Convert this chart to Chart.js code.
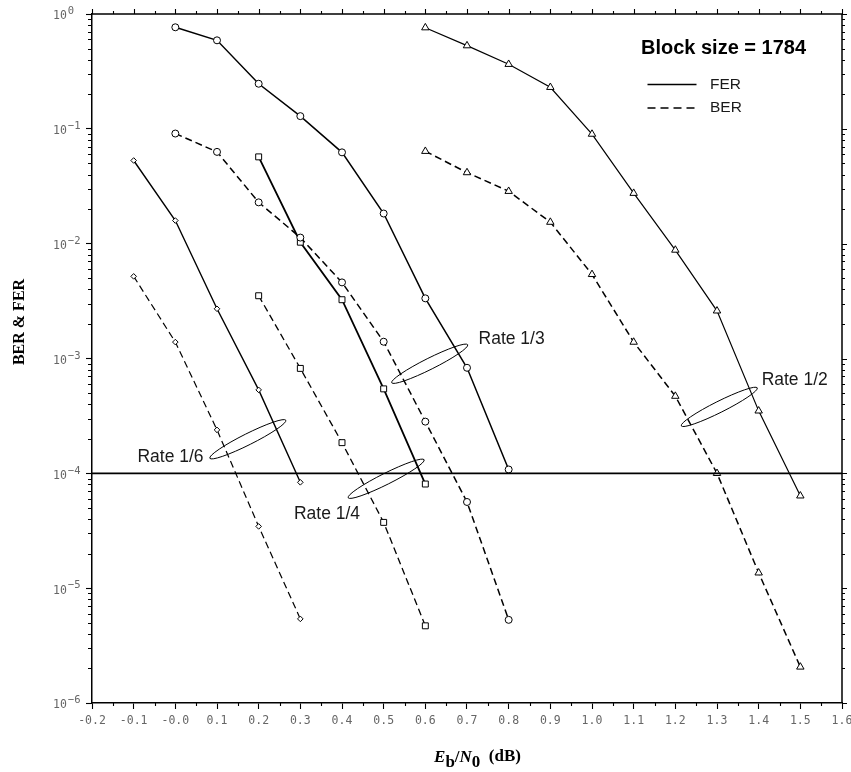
<!DOCTYPE html>
<html><head><meta charset="utf-8">
<script src="https://cdn.jsdelivr.net/npm/chart.js@4/dist/chart.umd.min.js"></script>
<style>html,body{margin:0;padding:0;background:#fff}#wrap{width:851px;height:772px}</style>
</head><body><div id="wrap"><canvas id="c" width="851" height="772"></canvas></div>
<script>
// ---------- data ----------
const rate13X   = [0.0, 0.1, 0.2, 0.3, 0.4, 0.5, 0.6, 0.7, 0.8];
const rate13FER = [0.766, 0.59, 0.247, 0.129, 0.0624, 0.0183, 0.00334, 0.00083, 0.000108];
const rate13BER = [0.091, 0.063, 0.0229, 0.0113, 0.0046, 0.0014, 0.000282, 0.0000563, 0.0000053];

const rate12X   = [0.6, 0.7, 0.8, 0.9, 1.0, 1.1, 1.2, 1.3, 1.4, 1.5];
const rate12FER = [0.76, 0.53, 0.365, 0.23, 0.09, 0.0275, 0.0088, 0.0026, 0.00035, 0.0000637];
const rate12BER = [0.0638, 0.0416, 0.0286, 0.0154, 0.0054, 0.00139, 0.00047, 0.0001, 0.0000136, 0.00000206];

const rate16X   = [-0.1, 0.0, 0.1, 0.2, 0.3];
const rate16FER = [0.053, 0.0159, 0.00271, 0.000533, 0.0000835];
const rate16BER = [0.00519, 0.00139, 0.000239, 0.0000345, 0.0000054];

const rate14X   = [0.2, 0.3, 0.4, 0.5, 0.6];
const rate14FER = [0.057, 0.0103, 0.00325, 0.000544, 0.0000807];
const rate14BER = [0.00352, 0.00082, 0.000185, 0.0000374, 0.0000047];

const thresholdX = [-0.2, 1.6];
const thresholdY = [1e-4, 1e-4];

const xTickValues = [-0.2,-0.1,0,0.1,0.2,0.3,0.4,0.5,0.6,0.7,0.8,0.9,1.0,1.1,1.2,1.3,1.4,1.5,1.6];
const xTickLabels = ['-0.2','-0.1','-0.0','0.1','0.2','0.3','0.4','0.5','0.6','0.7','0.8','0.9','1.0','1.1','1.2','1.3','1.4','1.5','1.6'];
const yTickValues = [1e-6,1e-5,1e-4,1e-3,1e-2,1e-1,1];
const yTickBase = '10';
const yTickExponents = ['\u22126','\u22125','\u22124','\u22123','\u22122','\u22121','0'];

const rateNames = ['Rate 1/3', 'Rate 1/2', 'Rate 1/6', 'Rate 1/4'];
const legendTitle = 'Block size = 1784';
const legendNames = ['FER', 'BER'];

// annotation anchors in data coordinates
const rateLabelX = [0.807, 1.4865, -0.0116, 0.364];
const rateLabelY = [1.475e-3, 6.53e-4, 1.375e-4, 4.45e-5];
const ellipseX   = [0.6105, 1.3055, 0.174, 0.506];
const ellipseY   = [9.0e-4, 3.79e-4, 1.98e-4, 8.97e-5];

// ---------- chart ----------
function pts(xs, ys){ return xs.map((x,i)=>({x:x, y:ys[i]})); }
function series(label, xs, ys, style, radius, dashed, width){
  return {
    label: label, data: pts(xs, ys), showLine: true, tension: 0,
    borderColor: '#000', borderWidth: width, borderDash: dashed ? [7,4] : [],
    pointStyle: style, pointRadius: radius, pointHoverRadius: radius,
    pointBackgroundColor: '#fff', pointBorderColor: '#000', pointBorderWidth: 1,
    fill: false
  };
}

const datasets = [
  {label:'threshold', data: pts(thresholdX, thresholdY), showLine:true, borderColor:'#000', borderWidth:1.8, pointRadius:0, fill:false},
  series('Rate 1/3 FER', rate13X, rate13FER, 'circle', 3.5, false, 1.5),
  series('Rate 1/3 BER', rate13X, rate13BER, 'circle', 3.5, true, 1.5),
  series('Rate 1/2 FER', rate12X, rate12FER, 'triangle', 4.3, false, 1.2),
  series('Rate 1/2 BER', rate12X, rate12BER, 'triangle', 4.3, true, 1.5),
  series('Rate 1/6 FER', rate16X, rate16FER, 'rectRot', 2.8, false, 1.4),
  series('Rate 1/6 BER', rate16X, rate16BER, 'rectRot', 2.8, true, 1.2),
  series('Rate 1/4 FER', rate14X, rate14FER, 'rect', 4.2, false, 1.8),
  series('Rate 1/4 BER', rate14X, rate14BER, 'rect', 4.2, true, 1.3)
];

const decor = {
  id: 'decor',
  afterDraw(chart){
    const ctx = chart.ctx, a = chart.chartArea, xs = chart.scales.x, ys = chart.scales.y;
    ctx.save();
    ctx.strokeStyle = '#000';
    // top & right frame
    ctx.lineWidth = 1.5;
    ctx.beginPath();
    ctx.moveTo(a.left, a.top); ctx.lineTo(a.right, a.top); ctx.lineTo(a.right, a.bottom);
    ctx.stroke();
    ctx.lineWidth = 1.1;
    ctx.beginPath();
    for (let i = 0; i <= 36; i++){
      const v = -0.2 + i*0.05;
      const px = Math.round(xs.getPixelForValue(v)) + 0.5;
      const major = (i % 2 === 0);
      ctx.moveTo(px, a.top); ctx.lineTo(px, a.top - (major ? 5 : 3));
      if (!major){ ctx.moveTo(px, a.bottom); ctx.lineTo(px, a.bottom + 3); }
    }
    for (let e = -6; e <= 0; e++){
      for (let m = 1; m <= 9; m++){
        const v = m * Math.pow(10, e);
        if (v > 1.0000001) break;
        const py = Math.round(ys.getPixelForValue(v)) + 0.5;
        const major = (m === 1);
        if (!major){ ctx.moveTo(a.left, py); ctx.lineTo(a.left - 4, py); }
        ctx.moveTo(a.right, py); ctx.lineTo(a.right + (major ? 5 : 3), py);
      }
    }
    ctx.stroke();

    // y tick labels 10^n
    ctx.fillStyle = '#666';
    ctx.textAlign = 'left'; ctx.textBaseline = 'middle';
    for (let i = 0; i < yTickValues.length; i++){
      const py = ys.getPixelForValue(yTickValues[i]);
      const lx = a.left - 39;
      ctx.font = '11.5px "DejaVu Sans Mono", monospace';
      ctx.fillText(yTickBase, lx, py + 2.5);
      const w = ctx.measureText(yTickBase).width;
      ctx.font = '10.5px "DejaVu Sans Mono", monospace';
      ctx.fillText(yTickExponents[i], lx + w + 1, py - 2.5);
    }

    // ellipses
    ctx.lineWidth = 1;
    for (let i = 0; i < ellipseX.length; i++){
      const cx = xs.getPixelForValue(ellipseX[i]), cy = ys.getPixelForValue(ellipseY[i]);
      ctx.beginPath();
      ctx.ellipse(cx, cy, 42.5, 5.6, -26.6*Math.PI/180, 0, Math.PI*2);
      ctx.stroke();
    }
    // rate labels
    ctx.fillStyle = '#1a1a1a';
    ctx.font = '17.5px "Liberation Sans", Arial, sans-serif';
    ctx.textAlign = 'center'; ctx.textBaseline = 'middle';
    for (let i = 0; i < rateNames.length; i++){
      ctx.fillText(rateNames[i], xs.getPixelForValue(rateLabelX[i]), ys.getPixelForValue(rateLabelY[i]));
    }

    // legend block
    ctx.fillStyle = '#000';
    ctx.font = 'bold 20px "Liberation Sans", Arial, sans-serif';
    ctx.textAlign = 'center';
    ctx.fillText(legendTitle, a.right - 118.5, a.top + 34);
    ctx.lineWidth = 1.3;
    ctx.beginPath(); ctx.moveTo(a.right - 194.5, a.top + 70.5); ctx.lineTo(a.right - 145.5, a.top + 70.5); ctx.stroke();
    ctx.setLineDash([8,5]);
    ctx.beginPath(); ctx.moveTo(a.right - 194.5, a.top + 94); ctx.lineTo(a.right - 145.5, a.top + 94); ctx.stroke();
    ctx.setLineDash([]);
    ctx.font = '15.5px "Liberation Sans", Arial, sans-serif';
    ctx.textAlign = 'left';
    ctx.fillStyle = '#1a1a1a';
    ctx.fillText(legendNames[0], a.right - 132, a.top + 70.5);
    ctx.fillText(legendNames[1], a.right - 132, a.top + 94);

    // y title
    ctx.save();
    ctx.fillStyle = '#000';
    ctx.font = 'bold 16px "Liberation Serif", "Times New Roman", serif';
    ctx.translate(20, 322);
    ctx.rotate(-Math.PI/2);
    ctx.textAlign = 'center'; ctx.textBaseline = 'middle';
    ctx.fillText('BER & FER', 0, 0);
    ctx.restore();

    // x title: E_b/N_0 (dB)
    const parts = [
      {t:'E', f:'italic bold 17px "Liberation Serif", serif', dy:0},
      {t:'b', f:'bold 17px "Liberation Serif", serif', dy:5},
      {t:'/', f:'bold 17px "Liberation Serif", serif', dy:0},
      {t:'N', f:'italic bold 17px "Liberation Serif", serif', dy:0},
      {t:'0', f:'bold 17px "Liberation Serif", serif', dy:5},
      {t:'  (dB)', f:'bold 17px "Liberation Serif", serif', dy:-1}
    ];
    let total = 0;
    parts.forEach(p => { ctx.font = p.f; p.w = ctx.measureText(p.t).width; total += p.w; });
    let cx = (a.left + a.right)/2 + 10.5 - total/2;
    const base = a.bottom + 59;
    ctx.textAlign = 'left'; ctx.textBaseline = 'alphabetic'; ctx.fillStyle = '#000';
    parts.forEach(p => { ctx.font = p.f; ctx.fillText(p.t, cx, base + p.dy); cx += p.w; });
    ctx.restore();
  }
};

new Chart(document.getElementById('c'), {
  type: 'scatter',
  data: { datasets: datasets },
  options: {
    responsive: false, animation: false, devicePixelRatio: 1,
    layout: { padding: { top: 14, right: 9, left: 0, bottom: 0 } },
    plugins: { legend: { display: false }, tooltip: { enabled: false } },
    scales: {
      x: {
        type: 'linear', position: 'bottom', min: -0.2, max: 1.6,
        afterBuildTicks(s){ s.ticks = xTickValues.map(v => ({value: v})); },
        afterFit(s){ s.height = 69; s.paddingLeft = 0; s.paddingRight = 0; },
        border: { display: true, color: '#000', width: 1.5 },
        grid: { display: true, drawOnChartArea: false, drawTicks: true, tickLength: 6, tickWidth: 1.1, tickColor: '#000' },
        ticks: { autoSkip: false, maxRotation: 0, minRotation: 0, padding: 5, color: '#666',
                 font: { family: '"DejaVu Sans Mono", monospace', size: 11.5 },
                 callback: (v, i) => xTickLabels[i] }
      },
      y: {
        type: 'logarithmic', position: 'left', min: 1e-6, max: 1,
        afterBuildTicks(s){ s.ticks = yTickValues.map(v => ({value: v})); },
        afterFit(s){ s.width = 92; s.paddingTop = 0; s.paddingBottom = 0; },
        border: { display: true, color: '#000', width: 1.5 },
        grid: { display: true, drawOnChartArea: false, drawTicks: true, tickLength: 6, tickWidth: 1.1, tickColor: '#000' },
        ticks: { display: false }
      }
    }
  },
  plugins: [decor]
});
</script>
</body></html>
